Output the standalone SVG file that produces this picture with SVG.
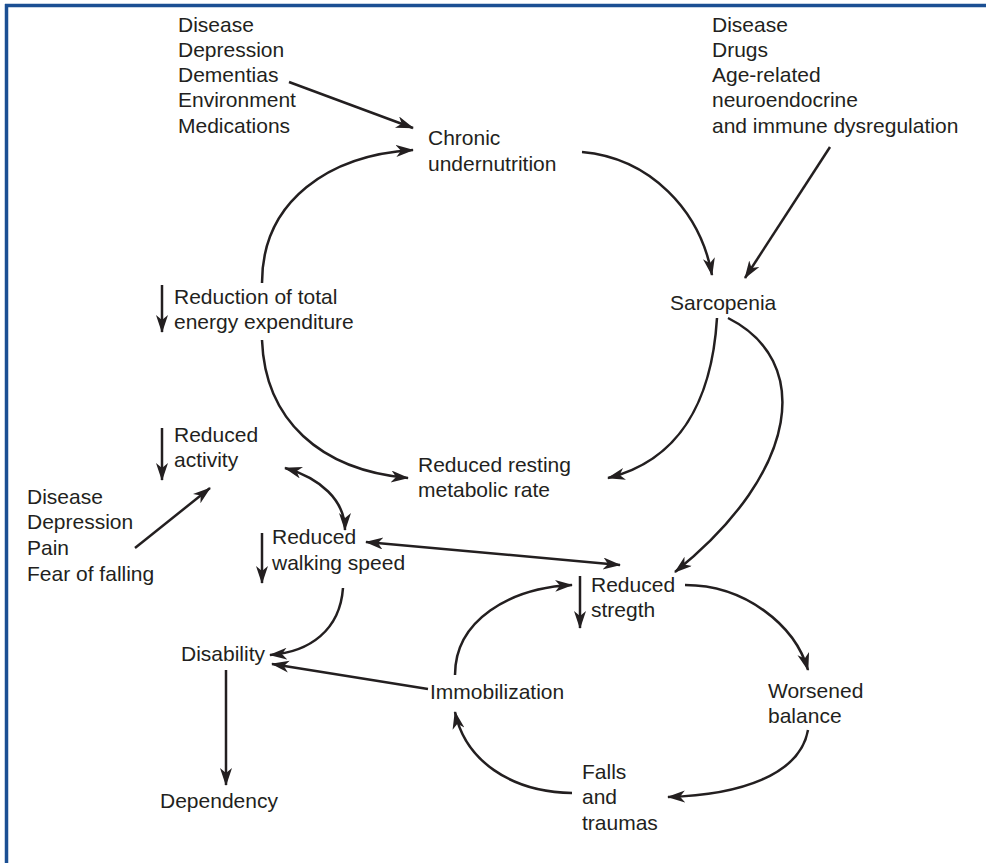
<svg xmlns="http://www.w3.org/2000/svg" width="986" height="863" viewBox="0 0 986 863">
<style>
text{font-family:"Liberation Sans",Arial,sans-serif;font-size:21px;fill:#231f20}
.c{fill:none;stroke:#231f20;stroke-width:2.5}
.b{fill:none;stroke:#1b4f93;stroke-width:3.5}
</style>
<defs>
<marker id="ah" markerUnits="userSpaceOnUse" markerWidth="20" markerHeight="14" refX="17" refY="6" orient="auto-start-reverse" viewBox="0 0 20 14">
<path d="M0,0 L18,6 L0,12 L5,6 z" fill="#231f20"/>
</marker>
</defs>
<rect width="986" height="863" fill="#fff"/>
<g id="border">
<line class="b" x1="5" y1="5.5" x2="986" y2="5.5"/>
<line class="b" x1="6.5" y1="4" x2="6.5" y2="863"/>
</g>
<g id="causes-undernutrition"><text x="178" y="32">Disease</text><text x="178" y="57">Depression</text><text x="178" y="82">Dementias</text><text x="178" y="107">Environment</text><text x="178" y="133">Medications</text></g>
<g id="chronic-undernutrition"><text x="428" y="145">Chronic</text><text x="428" y="171">undernutrition</text></g>
<g id="causes-sarcopenia"><text x="712" y="32">Disease</text><text x="712" y="57">Drugs</text><text x="712" y="82">Age-related</text><text x="712" y="107">neuroendocrine</text><text x="712" y="133">and immune dysregulation</text></g>
<g id="sarcopenia"><text x="670" y="310">Sarcopenia</text></g>
<g id="reduction-energy"><text x="174" y="304">Reduction of total</text><text x="174" y="329">energy expenditure</text></g>
<g id="reduced-activity"><text x="174" y="442">Reduced</text><text x="174" y="467">activity</text></g>
<g id="reduced-resting"><text x="418" y="472">Reduced resting</text><text x="418" y="497">metabolic rate</text></g>
<g id="causes-activity"><text x="27" y="504">Disease</text><text x="27" y="529">Depression</text><text x="27" y="555">Pain</text><text x="27" y="581">Fear of falling</text></g>
<g id="reduced-walking"><text x="272" y="544">Reduced</text><text x="272" y="570">walking speed</text></g>
<g id="reduced-strength"><text x="591" y="592">Reduced</text><text x="591" y="617">stregth</text></g>
<g id="disability"><text x="181" y="661">Disability</text></g>
<g id="immobilization"><text x="430" y="699">Immobilization</text></g>
<g id="worsened-balance"><text x="768" y="698">Worsened</text><text x="768" y="723">balance</text></g>
<g id="falls"><text x="582" y="779">Falls</text><text x="582" y="804">and</text><text x="582" y="830">traumas</text></g>
<g id="dependency"><text x="160" y="808">Dependency</text></g>
<g id="connectors">
<path class="c" d="M289,82 L413,128" marker-end="url(#ah)"/>
<path class="c" d="M262,283 C262,200 330,155 413,150" marker-end="url(#ah)"/>
<path class="c" d="M582,152 C650,158 700,210 712,275" marker-end="url(#ah)"/>
<path class="c" d="M830,147 L745,278" marker-end="url(#ah)"/>
<path class="c" d="M717,318 C712,400 680,460 608,478" marker-end="url(#ah)"/>
<path class="c" d="M728,318 C812,360 802,470 675,572" marker-end="url(#ah)"/>
<path class="c" d="M262,340 C265,420 320,470 408,478" marker-end="url(#ah)"/>
<path class="c" d="M285,468 C320,478 345,500 345,530" marker-start="url(#ah)" marker-end="url(#ah)"/>
<path class="c" d="M366,542 L620,565" marker-start="url(#ah)" marker-end="url(#ah)"/>
<path class="c" d="M135,548 L210,488" marker-end="url(#ah)"/>
<path class="c" d="M343,588 C340,630 310,652 270,655" marker-end="url(#ah)"/>
<path class="c" d="M428,689 L272,664" marker-end="url(#ah)"/>
<path class="c" d="M226,670 L226,785" marker-end="url(#ah)"/>
<path class="c" d="M455,675 C455,620 510,588 572,585" marker-end="url(#ah)"/>
<path class="c" d="M685,585 C745,585 795,625 808,670" marker-end="url(#ah)"/>
<path class="c" d="M808,730 C800,775 740,795 668,797" marker-end="url(#ah)"/>
<path class="c" d="M572,793 C510,792 465,760 455,712" marker-end="url(#ah)"/>
<path class="c" d="M162,285 L162,332" marker-end="url(#ah)"/>
<path class="c" d="M162,428 L162,480" marker-end="url(#ah)"/>
<path class="c" d="M262,533 L262,583" marker-end="url(#ah)"/>
<path class="c" d="M580,576 L580,628" marker-end="url(#ah)"/>
</g>
</svg>
